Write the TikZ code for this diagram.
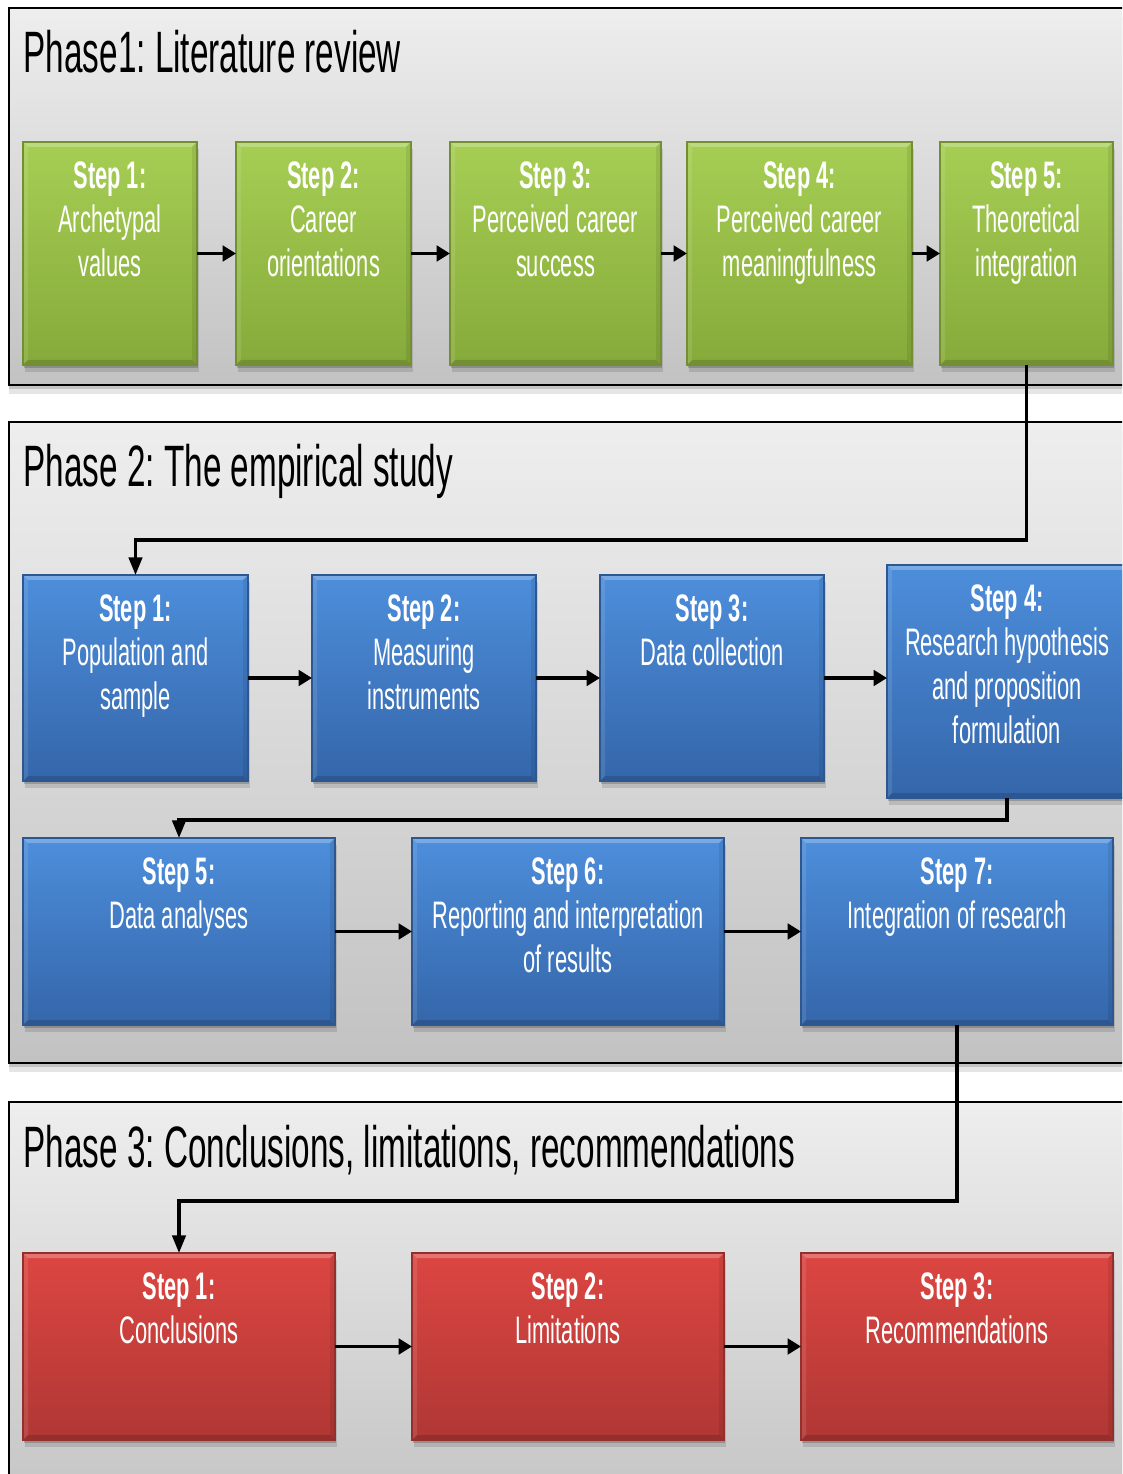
\documentclass[tikz,border=0pt]{standalone}
\usepackage{fontspec}
\setmainfont{Liberation Sans}[FakeStretch=0.57]
\frenchspacing
\usetikzlibrary{arrows.meta,shadows,fit}
\definecolor{gtop}{HTML}{A6CE54}
\definecolor{gbot}{HTML}{86AA3A}
\definecolor{btop}{HTML}{4D8EDB}
\definecolor{bbot}{HTML}{3466AA}
\definecolor{rtop}{HTML}{DC4642}
\definecolor{rbot}{HTML}{B03734}
\definecolor{ptop}{HTML}{EEEEEE}
\definecolor{pbot}{HTML}{C2C2C2}
\tikzset{
  panel/.style={draw=black, line width=0.6pt, top color=ptop, bottom color=pbot,
    drop shadow={shadow xshift=0pt, shadow yshift=-1.2pt, opacity=0.15, fill=black},
    drop shadow={shadow xshift=0pt, shadow yshift=-2.6pt, opacity=0.10, fill=black}},
  stepbox/.style={inner sep=0pt, outer sep=0pt, line width=0.35pt,
    drop shadow={shadow xshift=0.3pt, shadow yshift=-0.9pt, opacity=0.18, fill=black},
    drop shadow={shadow xshift=0.6pt, shadow yshift=-2.0pt, opacity=0.12, fill=black},
    path picture={
      \fill[white,opacity=.25] (path picture bounding box.north west) -- (path picture bounding box.north east)
        -- ([shift={(-5,5)}]path picture bounding box.north east) -- ([shift={(5,5)}]path picture bounding box.north west) -- cycle;
      \fill[black,opacity=.15] (path picture bounding box.south west) -- (path picture bounding box.south east)
        -- ([shift={(-5,-5)}]path picture bounding box.south east) -- ([shift={(5,-5)}]path picture bounding box.south west) -- cycle;
      \fill[white,opacity=.10] (path picture bounding box.north west) -- (path picture bounding box.south west)
        -- ([shift={(5,-5)}]path picture bounding box.south west) -- ([shift={(5,5)}]path picture bounding box.north west) -- cycle;
      \fill[black,opacity=.08] (path picture bounding box.north east) -- (path picture bounding box.south east)
        -- ([shift={(-5,-5)}]path picture bounding box.south east) -- ([shift={(-5,5)}]path picture bounding box.north east) -- cycle;
    }},
  greenbox/.style={stepbox, draw=gbot!85!black, top color=gtop, bottom color=gbot},
  bluebox/.style={stepbox, draw=bbot!85!black, top color=btop, bottom color=bbot},
  redbox/.style={stepbox, draw=rbot!85!black, top color=rtop, bottom color=rbot},
  steptext/.style={anchor=north, align=center, text=white, inner sep=0pt,
    font=\fontsize{10.9}{12.5}\selectfont},
  titletext/.style={anchor=base west, inner sep=0pt, font=\fontsize{16.6}{19}\selectfont},
  flow/.style={line width=1.1pt, -{Triangle[length=3.8pt,width=4.4pt]}},
  elbow/.style={line width=0.9pt, -{Triangle[length=5pt,width=3.8pt]}},
}
\begin{document}
\begin{tikzpicture}[x=0.01cm, y=-0.01cm]
\useasboundingbox[fill=white] (0,0) rectangle (1122,1474);
\clip (0,0) rectangle (1122,1474);

% panels
\path[panel] (9,8) rectangle (1140,385);
\path[panel] (9,422) rectangle (1140,1063);
\path[panel] (9,1102) rectangle (1140,1530);

\node[titletext] (t1) at (23,73) {Phase1: Literature review};
\node[titletext] (t2) at (23,487) {Phase 2: The empirical study};
\node[titletext] (t3) at (23,1167) {Phase 3: Conclusions, limitations, recommendations};

% phase 1 boxes
\node[greenbox, fit={(23,142) (197,365)}] (g1) {};
\node[greenbox, fit={(236,142) (411,365)}] (g2) {};
\node[greenbox, fit={(450,142) (661,365)}] (g3) {};
\node[greenbox, fit={(687,142) (912,365)}] (g4) {};
\node[greenbox, fit={(940,142) (1113,365)}] (g5) {};

% phase 2 boxes
\node[bluebox, fit={(23,575) (248,781)}] (b1) {};
\node[bluebox, fit={(312,575) (536,781)}] (b2) {};
\node[bluebox, fit={(600,575) (824,781)}] (b3) {};
\node[bluebox, fit={(887,565) (1127,798)}] (b4) {};
\node[bluebox, fit={(23,838) (335,1025)}] (b5) {};
\node[bluebox, fit={(412,838) (724,1025)}] (b6) {};
\node[bluebox, fit={(801,838) (1113,1025)}] (b7) {};

% phase 3 boxes
\node[redbox, fit={(23,1253) (335,1440)}] (r1) {};
\node[redbox, fit={(412,1253) (724,1440)}] (r2) {};
\node[redbox, fit={(801,1253) (1113,1440)}] (r3) {};

% texts
\node[steptext] (g1t) at ([shift={(0,19)}]g1.north) {\textbf{Step 1:}\\Archetypal\\values};
\node[steptext] (g2t) at ([shift={(0,19)}]g2.north) {\textbf{Step 2:}\\Career\\orientations};
\node[steptext] (g3t) at ([shift={(0,19)}]g3.north) {\textbf{Step 3:}\\Perceived career\\success};
\node[steptext] (g4t) at ([shift={(0,19)}]g4.north) {\textbf{Step 4:}\\Perceived career\\meaningfulness};
\node[steptext] (g5t) at ([shift={(0,19)}]g5.north) {\textbf{Step 5:}\\Theoretical\\integration};

\node[steptext] (b1t) at ([shift={(0,19)}]b1.north) {\textbf{Step 1:}\\Population and\\sample};
\node[steptext] (b2t) at ([shift={(0,19)}]b2.north) {\textbf{Step 2:}\\Measuring\\instruments};
\node[steptext] (b3t) at ([shift={(0,19)}]b3.north) {\textbf{Step 3:}\\Data collection};
\node[steptext] (b4t) at ([shift={(0,19)}]b4.north) {\textbf{Step 4:}\\Research hypothesis\\and proposition\\formulation};
\node[steptext] (b5t) at ([shift={(0,19)}]b5.north) {\textbf{Step 5:}\\Data analyses};
\node[steptext] (b6t) at ([shift={(0,19)}]b6.north) {\textbf{Step 6:}\\Reporting and interpretation\\of results};
\node[steptext] (b7t) at ([shift={(0,19)}]b7.north) {\textbf{Step 7:}\\Integration of research};

\node[steptext] (r1t) at ([shift={(0,19)}]r1.north) {\textbf{Step 1:}\\Conclusions};
\node[steptext] (r2t) at ([shift={(0,19)}]r2.north) {\textbf{Step 2:}\\Limitations};
\node[steptext] (r3t) at ([shift={(0,19)}]r3.north) {\textbf{Step 3:}\\Recommendations};

% horizontal flow arrows
\draw[flow] (g1.east) -- (g2.west);
\draw[flow] (g2.east) -- (g3.west);
\draw[flow] (g3.east) -- (g4.west);
\draw[flow] (g4.east) -- (g5.west);
\draw[flow] (b1.east) -- (b2.west);
\draw[flow] (b2.east) -- (b3.west);
\draw[flow] (b3.east) -- (b3.east -| b4.west);
\draw[flow] (b5.east) -- (b6.west);
\draw[flow] (b6.east) -- (b7.west);
\draw[flow] (r1.east) -- (r2.west);
\draw[flow] (r2.east) -- (r3.west);

% elbow connectors
\draw[elbow] (g5.south) -- ++(0,175) -| (b1.north);
\draw[elbow] (b4.south) -- ++(0,22) -| (b5.north);
\draw[elbow] (b7.south) -- ++(0,176) -| (r1.north);
\end{tikzpicture}
\end{document}
